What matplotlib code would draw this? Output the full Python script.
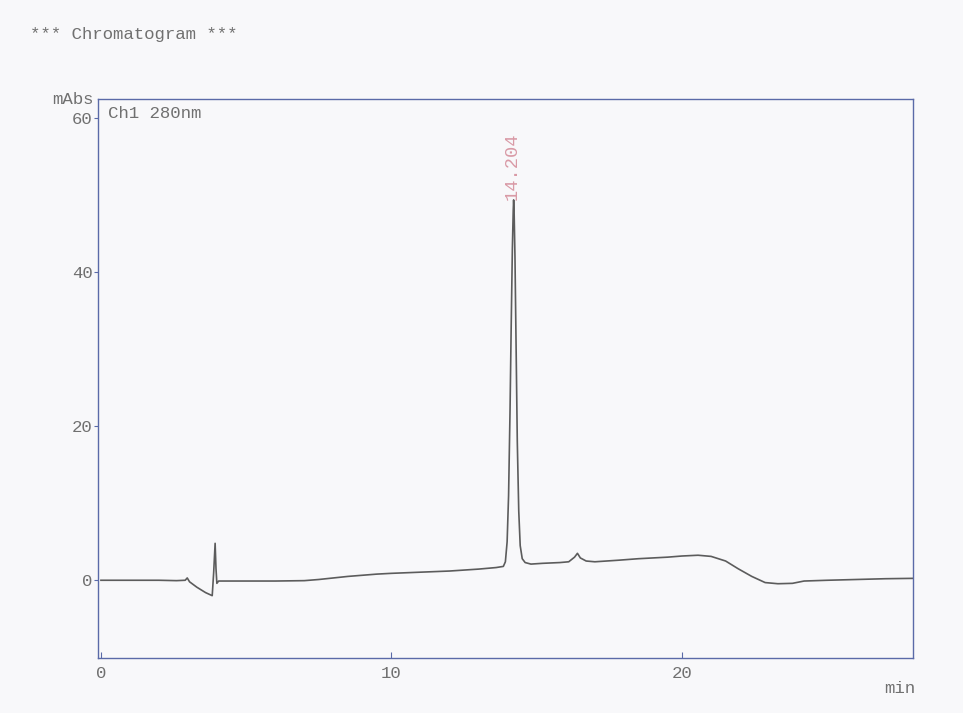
import numpy as np
import matplotlib
matplotlib.use("Agg")
import matplotlib.pyplot as plt

# retention time (min) and detector signal (mAbs), Ch1 280nm
time_min = [0.0, 1.0, 2.0, 2.6, 2.9, 2.97, 3.05, 3.3, 3.6, 3.83, 3.88, 3.93, 3.96, 3.99,
            4.05, 4.2, 5.0, 6.0, 7.0, 7.5, 8.0, 8.5, 9.0, 9.5, 10.0, 11.0, 12.0, 13.0,
            13.6, 13.85, 13.92, 13.98, 14.03, 14.08, 14.12, 14.16, 14.19, 14.204, 14.22,
            14.25, 14.29, 14.33, 14.38, 14.43, 14.5, 14.6, 14.8, 15.2, 15.8, 16.1, 16.3,
            16.4, 16.5, 16.7, 17.0, 17.8, 18.5, 19.5, 20.0, 20.55, 21.0, 21.5, 21.93,
            22.4, 22.86, 23.3, 23.8, 24.2, 25.0, 26.0, 27.0, 28.0]
signal_mabs = [0.0, 0.0, 0.0, -0.05, 0.0, 0.3, -0.2, -0.9, -1.6, -2.0, 1.0, 4.8, 1.5,
               -0.4, -0.1, -0.1, -0.1, -0.1, -0.05, 0.1, 0.3, 0.5, 0.65, 0.8, 0.9, 1.05,
               1.2, 1.45, 1.65, 1.8, 2.4, 5.0, 11.0, 22.0, 33.0, 43.0, 48.0, 49.4, 48.0,
               42.0, 30.0, 18.0, 9.0, 4.5, 2.8, 2.3, 2.1, 2.2, 2.3, 2.4, 3.0, 3.5, 2.9,
               2.5, 2.4, 2.6, 2.8, 3.0, 3.15, 3.25, 3.1, 2.5, 1.5, 0.5, -0.3, -0.45,
               -0.4, -0.1, 0.0, 0.1, 0.2, 0.25]

peak_time = 14.204
x_ticks = [0, 10, 20]
y_ticks = [0, 20, 40, 60]

mono = "Liberation Mono"
text_col = "#707070"
frame_col = "#5a6aa8"
fs = 12.5

fig = plt.figure(figsize=(9.63, 7.13), dpi=100)
fig.patch.set_facecolor("#f8f8fa")
ax = fig.add_axes([0.1018, 0.0771, 0.8463, 0.784])
ax.set_facecolor("#f8f8fa")

ax.plot(time_min, signal_mabs, color="#5c5c5c", lw=1.2)

ax.set_xlim(-0.1, 27.95)
ax.set_ylim(-10.1, 62.5)
ax.set_xticks(x_ticks)
ax.set_yticks(y_ticks)
ax.tick_params(axis="x", direction="in", length=4, color=frame_col, pad=6,
               labelsize=fs, labelcolor=text_col)
ax.tick_params(axis="y", direction="out", length=3, color=frame_col, pad=1,
               labelsize=fs, labelcolor=text_col)
for lab in ax.get_xticklabels() + ax.get_yticklabels():
    lab.set_family(mono)
for sp in ax.spines.values():
    sp.set_color(frame_col)
    sp.set_linewidth(1.0)

# peak label above the main peak
ax.text(peak_time - 0.05, 49.4, f"{peak_time:.3f}", rotation=90, ha="center", va="bottom",
        color="#d99aa6", family=mono, fontsize=13.5)

ax.text(0.012, 0.987, "Ch1 280nm", transform=ax.transAxes, ha="left", va="top",
        color=text_col, family=mono, fontsize=fs)

fig.text(0.031, 0.952, "*** Chromatogram ***", ha="left", va="center",
         color=text_col, family=mono, fontsize=fs)
fig.text(0.054, 0.86, "mAbs", ha="left", va="center", color=text_col,
         family=mono, fontsize=fs)
fig.text(0.918, 0.035, "min", ha="left", va="center", color=text_col,
         family=mono, fontsize=fs)

fig.savefig("out.png", dpi=100, facecolor=fig.get_facecolor())
